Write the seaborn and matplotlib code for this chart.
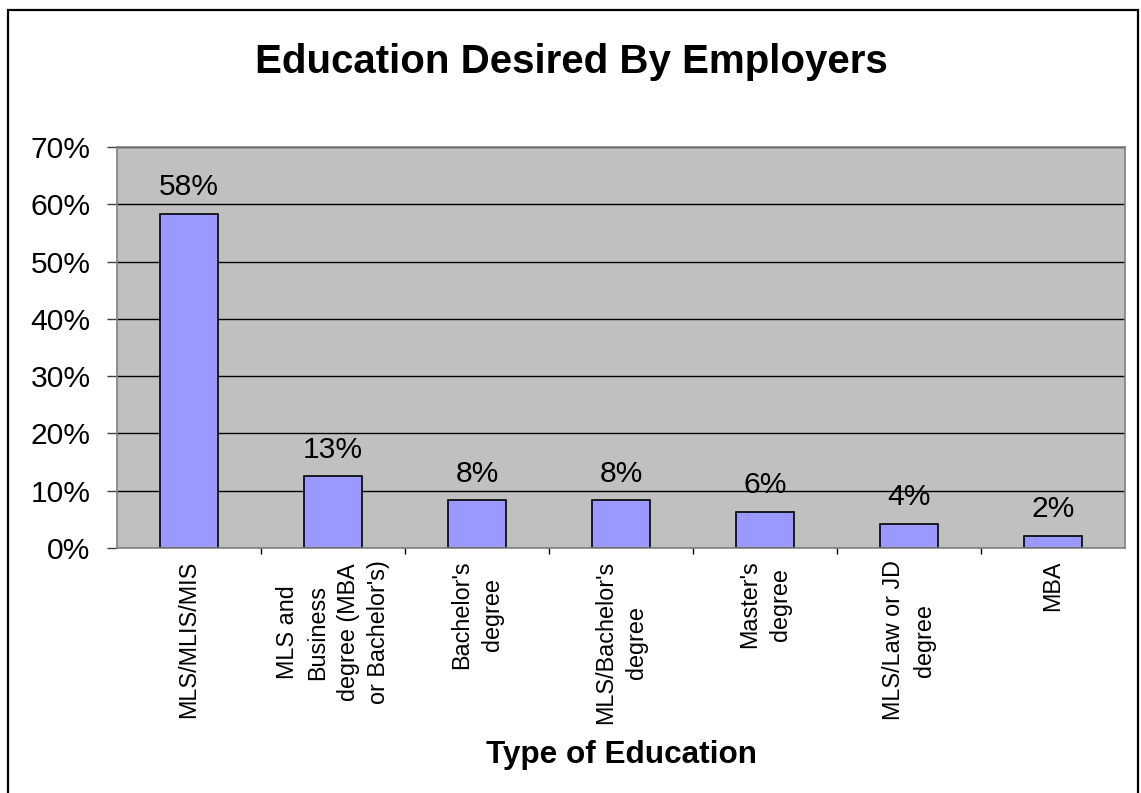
import math
import matplotlib
matplotlib.use("Agg")
import matplotlib.pyplot as plt
from matplotlib.patches import Rectangle
from matplotlib.ticker import FuncFormatter, FixedLocator
import pandas as pd
import seaborn as sns

# Share of job postings asking for each type of education (percent)
categories = [
    "MLS/MLIS/MIS",
    "MLS and\nBusiness\ndegree (MBA\nor Bachelor's)",
    "Bachelor's\ndegree",
    "MLS/Bachelor's\ndegree",
    "Master's\ndegree",
    "MLS/Law or JD\ndegree",
    "MBA",
]
shares = [58.3, 12.5, 8.3, 8.3, 6.25, 4.2, 2.1]
y_ticks = [0, 10, 20, 30, 40, 50, 60, 70]

title = "Education Desired By Employers"
x_title = "Type of Education"

sns.set_theme(style="white")
plt.rcParams["font.family"] = ["Liberation Sans", "DejaVu Sans"]

df = pd.DataFrame({"education": categories, "share": shares})

fig = plt.figure(figsize=(11.41, 7.93), dpi=100)
fig.patch.set_facecolor("white")
ax = fig.add_axes([117 / 1141, 245 / 793, 1008 / 1141, 401 / 793])
ax.set_facecolor("#C0C0C0")

sns.barplot(data=df, x="education", y="share", ax=ax, color="#9999FF",
            width=0.4, edgecolor="black", linewidth=1.2, saturation=1)

ax.set_ylim(0, 70)
ax.set_xlim(-0.5, len(categories) - 0.5)
ax.yaxis.set_major_locator(FixedLocator(y_ticks))
ax.yaxis.set_major_formatter(FuncFormatter(lambda v, _: f"{v:.0f}%"))
ax.set_axisbelow(True)
ax.yaxis.grid(True, color="black", linewidth=1)
ax.xaxis.grid(False)

for s in ax.spines.values():
    s.set_color("#808080")
    s.set_linewidth(1.2)
    s.set_visible(True)

ax.tick_params(axis="y", which="major", direction="out", length=7, width=1,
               color="#404040", pad=12, labelsize=21.6, labelcolor="black",
               left=True)
ax.tick_params(axis="x", which="major", length=0, pad=9, labelsize=16.8,
               labelcolor="black")
ax.set_xticks(range(len(categories)))
ax.set_xticklabels(categories, rotation=90, ha="center", va="top",
                   linespacing=1.4)
for lbl in ax.get_xticklabels():
    lbl.set_multialignment("center")

# category separators below the axis
ax.xaxis.set_minor_locator(FixedLocator([i + 0.5 for i in range(len(categories) - 1)]))
ax.tick_params(axis="x", which="minor", direction="out", length=4, width=1,
               color="black", bottom=True)

# value labels above each bar
for i, v in enumerate(shares):
    ax.annotate(f"{math.floor(v + 0.5)}%", xy=(i, v), xytext=(0, 13.5),
                textcoords="offset points", ha="center", va="baseline",
                fontsize=21.6, color="black")

ax.set_ylabel("")
ax.set_xlabel(x_title, fontsize=22.7, fontweight="bold", color="black")
ax.xaxis.set_label_coords(0.5, -0.516)
ax.xaxis.label.set_va("center")

fig.text(571 / 1141, 1 - 62 / 793, title, ha="center", va="center",
         fontsize=29, fontweight="bold", color="black")

# chart area frame
fig.patches.append(Rectangle((8 / 1141, -0.02), 1130 / 1141, 1.02 - 10 / 793,
                             transform=fig.transFigure, fill=False,
                             edgecolor="black", linewidth=1.6))

fig.savefig("out.png", dpi=100, facecolor="white")
